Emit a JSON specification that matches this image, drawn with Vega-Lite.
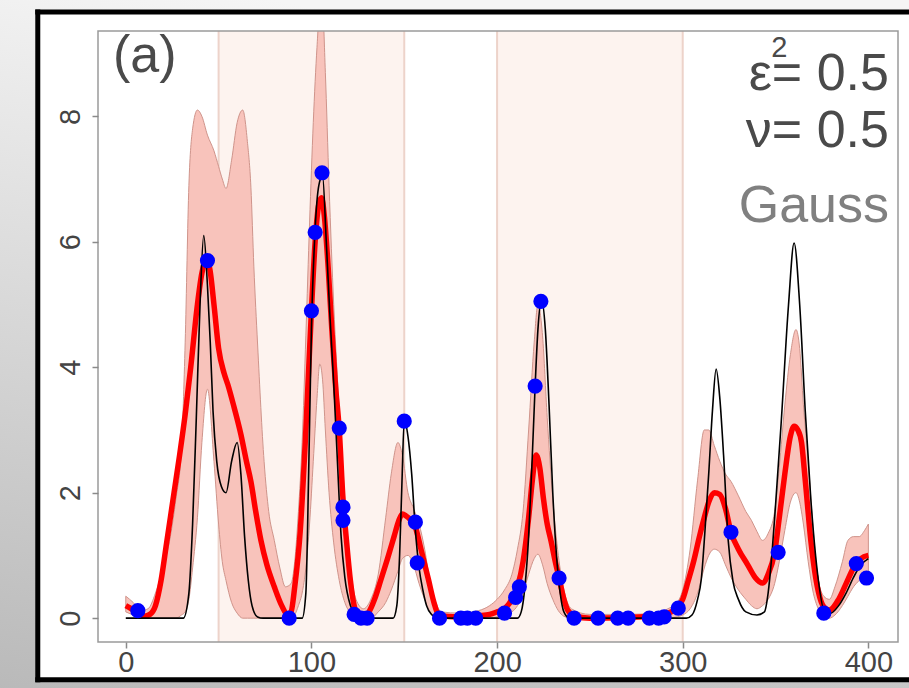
{
  "$schema": "https://vega.github.io/schema/vega-lite/v6.json",
  "width": 800,
  "height": 611,
  "autosize": {"type": "none"},
  "padding": {"left": 98, "top": 31, "right": 11, "bottom": 46},
  "background": "#eeeeee",
  "config": {
    "view": {"stroke": null},
    "axis": {"grid": false, "domain": false, "labelFont": "Liberation Sans", "labelFontSize": 29, "labelColor": "#444444", "tickColor": "#8a8a8a", "tickSize": 6, "tickWidth": 1.5}
  },
  "datasets": {
    "truth": [
      {"x": 0, "y": 0}, {"x": 31, "y": 0}, {"x": 34, "y": 0.4}, {"x": 36, "y": 1.5}, {"x": 38, "y": 3.2}, {"x": 40, "y": 5.0}, {"x": 42, "y": 6.1}, {"x": 44, "y": 5.3}, {"x": 45.5, "y": 4.4}, {"x": 47, "y": 3.3}, {"x": 49, "y": 2.5}, {"x": 51.5, "y": 2.1}, {"x": 54, "y": 2.0}, {"x": 57, "y": 2.5}, {"x": 60, "y": 2.8}, {"x": 62, "y": 2.3}, {"x": 64, "y": 1.3}, {"x": 66, "y": 0.6}, {"x": 68, "y": 0.2}, {"x": 71, "y": 0.02}, {"x": 74, "y": 0},
      {"x": 95, "y": 0}, {"x": 97, "y": 0.4}, {"x": 98.5, "y": 2.3}, {"x": 100, "y": 4.6}, {"x": 102, "y": 6.2}, {"x": 104, "y": 6.9}, {"x": 106, "y": 7.05}, {"x": 108, "y": 6.0}, {"x": 110, "y": 4.8}, {"x": 112, "y": 3.75}, {"x": 114, "y": 2.5}, {"x": 116, "y": 1.3}, {"x": 118, "y": 0.65}, {"x": 121, "y": 0.2}, {"x": 124, "y": 0.05}, {"x": 127, "y": 0},
      {"x": 144, "y": 0}, {"x": 146, "y": 0.2}, {"x": 147.5, "y": 1.0}, {"x": 148.8, "y": 2.2}, {"x": 150, "y": 3.15}, {"x": 152, "y": 2.9}, {"x": 154, "y": 2.3}, {"x": 156, "y": 1.4}, {"x": 158, "y": 0.8}, {"x": 160, "y": 0.45}, {"x": 162, "y": 0.2}, {"x": 165, "y": 0.05}, {"x": 168, "y": 0},
      {"x": 211, "y": 0}, {"x": 213, "y": 0.1}, {"x": 215, "y": 0.5}, {"x": 217, "y": 1.3}, {"x": 219, "y": 2.6}, {"x": 220.5, "y": 3.7}, {"x": 222, "y": 4.6}, {"x": 224, "y": 5.07}, {"x": 226, "y": 4.6}, {"x": 228, "y": 3.4}, {"x": 230, "y": 2.0}, {"x": 232, "y": 1.0}, {"x": 234, "y": 0.4}, {"x": 236, "y": 0.1}, {"x": 239, "y": 0},
      {"x": 302, "y": 0}, {"x": 305, "y": 0.05}, {"x": 308, "y": 0.3}, {"x": 310, "y": 0.62}, {"x": 312, "y": 1.4}, {"x": 314, "y": 2.3}, {"x": 316, "y": 3.3}, {"x": 318, "y": 3.97}, {"x": 320, "y": 3.5}, {"x": 322, "y": 2.6}, {"x": 324.5, "y": 1.24}, {"x": 327, "y": 0.6}, {"x": 330, "y": 0.3}, {"x": 334, "y": 0.1}, {"x": 340, "y": 0.05}, {"x": 344, "y": 0.1}, {"x": 346, "y": 0.4}, {"x": 348, "y": 1.0}, {"x": 350, "y": 1.8}, {"x": 353, "y": 3.1}, {"x": 357, "y": 5.0}, {"x": 360, "y": 5.98}, {"x": 363, "y": 5.0}, {"x": 366, "y": 3.3}, {"x": 369, "y": 1.9}, {"x": 373, "y": 0.62}, {"x": 377, "y": 0.06}, {"x": 380, "y": 0.08}, {"x": 384, "y": 0.2}, {"x": 388, "y": 0.4}, {"x": 392, "y": 0.65}, {"x": 396, "y": 0.85}, {"x": 400, "y": 0.95}
    ],
    "mean": [
      {"x": 0, "y": 0.2}, {"x": 3, "y": 0.15}, {"x": 6, "y": 0.1}, {"x": 10, "y": 0.03}, {"x": 13, "y": 0.06}, {"x": 16, "y": 0.2}, {"x": 19, "y": 0.6}, {"x": 22, "y": 1.2}, {"x": 26, "y": 2.0}, {"x": 29, "y": 2.6}, {"x": 32, "y": 3.25}, {"x": 35, "y": 4.0}, {"x": 38.6, "y": 5.0}, {"x": 41, "y": 5.5}, {"x": 43, "y": 5.69}, {"x": 45, "y": 5.6}, {"x": 47.5, "y": 5.0}, {"x": 50, "y": 4.3}, {"x": 53, "y": 3.9}, {"x": 55, "y": 3.72}, {"x": 58, "y": 3.4}, {"x": 62, "y": 2.93}, {"x": 65, "y": 2.5}, {"x": 67.4, "y": 2.18}, {"x": 70, "y": 1.7}, {"x": 72.8, "y": 1.24}, {"x": 76, "y": 0.85}, {"x": 80, "y": 0.5}, {"x": 84, "y": 0.2}, {"x": 87, "y": 0.06}, {"x": 89, "y": 0.1}, {"x": 91, "y": 0.5}, {"x": 94, "y": 1.4}, {"x": 97, "y": 3.0}, {"x": 100, "y": 4.9}, {"x": 102, "y": 6.0}, {"x": 104, "y": 6.6}, {"x": 105.5, "y": 6.7}, {"x": 107, "y": 6.4}, {"x": 109, "y": 5.6}, {"x": 111, "y": 4.6}, {"x": 113, "y": 3.7}, {"x": 115, "y": 3.0}, {"x": 117, "y": 1.9}, {"x": 119, "y": 1.2}, {"x": 121, "y": 0.6}, {"x": 123, "y": 0.2}, {"x": 125, "y": 0.05}, {"x": 128, "y": 0.02}, {"x": 131, "y": 0.1}, {"x": 134, "y": 0.3}, {"x": 137.5, "y": 0.62}, {"x": 141, "y": 0.95}, {"x": 144.5, "y": 1.3}, {"x": 147, "y": 1.55}, {"x": 149, "y": 1.66}, {"x": 151, "y": 1.63}, {"x": 153, "y": 1.58}, {"x": 156, "y": 1.45}, {"x": 159, "y": 1.1}, {"x": 163, "y": 0.62}, {"x": 166, "y": 0.25}, {"x": 168, "y": 0.08}, {"x": 172, "y": 0.03}, {"x": 180, "y": 0.02}, {"x": 190, "y": 0.04}, {"x": 196, "y": 0.06}, {"x": 200, "y": 0.1}, {"x": 204, "y": 0.15}, {"x": 208, "y": 0.3}, {"x": 211, "y": 0.5}, {"x": 214, "y": 0.9}, {"x": 217, "y": 1.6}, {"x": 219, "y": 2.2}, {"x": 221, "y": 2.6}, {"x": 223, "y": 2.4}, {"x": 225, "y": 1.9}, {"x": 227, "y": 1.5}, {"x": 229, "y": 1.24}, {"x": 231, "y": 0.95}, {"x": 233.4, "y": 0.64}, {"x": 236, "y": 0.3}, {"x": 238, "y": 0.13}, {"x": 242, "y": 0.03}, {"x": 250, "y": 0}, {"x": 285, "y": 0.03}, {"x": 292, "y": 0.08}, {"x": 297, "y": 0.16}, {"x": 300, "y": 0.3}, {"x": 303, "y": 0.6}, {"x": 306, "y": 0.92}, {"x": 309, "y": 1.3}, {"x": 311.6, "y": 1.6}, {"x": 314, "y": 1.85}, {"x": 317, "y": 2.0}, {"x": 320, "y": 1.97}, {"x": 323, "y": 1.75}, {"x": 326, "y": 1.37}, {"x": 330, "y": 1.1}, {"x": 335, "y": 0.85}, {"x": 339, "y": 0.65}, {"x": 343, "y": 0.56}, {"x": 346, "y": 0.7}, {"x": 349.5, "y": 1.05}, {"x": 352, "y": 1.6}, {"x": 355, "y": 2.3}, {"x": 358, "y": 2.9}, {"x": 360, "y": 3.06}, {"x": 362, "y": 3.0}, {"x": 364, "y": 2.8}, {"x": 366, "y": 2.2}, {"x": 369, "y": 1.24}, {"x": 373, "y": 0.43}, {"x": 376, "y": 0.18}, {"x": 379, "y": 0.13}, {"x": 384, "y": 0.3}, {"x": 388, "y": 0.55}, {"x": 392, "y": 0.8}, {"x": 396, "y": 0.95}, {"x": 400, "y": 1.0}
    ],
    "band": [
      {"x": 0, "lo": 0.1, "hi": 0.35}, {"x": 4, "lo": 0.05, "hi": 0.25}, {"x": 8, "lo": 0, "hi": 0.12}, {"x": 12, "lo": 0, "hi": 0.15}, {"x": 16, "lo": 0, "hi": 0.4}, {"x": 20, "lo": 0, "hi": 0.8}, {"x": 24, "lo": 0, "hi": 1.3}, {"x": 27, "lo": 0, "hi": 1.9}, {"x": 30, "lo": 0.05, "hi": 2.7}, {"x": 32, "lo": 0.1, "hi": 4.4}, {"x": 34, "lo": 0.3, "hi": 6.9}, {"x": 36, "lo": 0.8, "hi": 7.8}, {"x": 38.6, "lo": 1.6, "hi": 8.1}, {"x": 41, "lo": 2.8, "hi": 8.0}, {"x": 44, "lo": 3.65, "hi": 7.7}, {"x": 47.5, "lo": 2.5, "hi": 7.45}, {"x": 50, "lo": 1.5, "hi": 7.2}, {"x": 52, "lo": 0.9, "hi": 7.0}, {"x": 54, "lo": 0.6, "hi": 6.85}, {"x": 57, "lo": 0.25, "hi": 7.3}, {"x": 60, "lo": 0.08, "hi": 7.9}, {"x": 63, "lo": 0, "hi": 8.1}, {"x": 65.5, "lo": 0, "hi": 7.6}, {"x": 67.4, "lo": 0, "hi": 6.87}, {"x": 69, "lo": 0, "hi": 5.6}, {"x": 71, "lo": 0, "hi": 4.37}, {"x": 74.5, "lo": 0, "hi": 2.5}, {"x": 77, "lo": 0, "hi": 1.7}, {"x": 80, "lo": 0, "hi": 1.24}, {"x": 83, "lo": 0, "hi": 0.8}, {"x": 86, "lo": 0, "hi": 0.5}, {"x": 89, "lo": 0, "hi": 0.55}, {"x": 91, "lo": 0.05, "hi": 0.9}, {"x": 93, "lo": 0.2, "hi": 1.7}, {"x": 95, "lo": 0.4, "hi": 2.8}, {"x": 97, "lo": 0.8, "hi": 4.5}, {"x": 99, "lo": 1.5, "hi": 6.3}, {"x": 101, "lo": 2.5, "hi": 7.9}, {"x": 103, "lo": 3.5, "hi": 9.1}, {"x": 104.5, "lo": 4.05, "hi": 9.7}, {"x": 106, "lo": 3.8, "hi": 9.7}, {"x": 107.5, "lo": 3.0, "hi": 8.7}, {"x": 109.5, "lo": 2.0, "hi": 6.9}, {"x": 112, "lo": 1.2, "hi": 5.0}, {"x": 115, "lo": 0.6, "hi": 3.3}, {"x": 118, "lo": 0.25, "hi": 1.9}, {"x": 121, "lo": 0.08, "hi": 0.8}, {"x": 124, "lo": 0, "hi": 0.3}, {"x": 128, "lo": 0, "hi": 0.15}, {"x": 132, "lo": 0, "hi": 0.3}, {"x": 136, "lo": 0.1, "hi": 0.7}, {"x": 140, "lo": 0.25, "hi": 1.6}, {"x": 143, "lo": 0.45, "hi": 2.3}, {"x": 146.6, "lo": 0.75, "hi": 2.8}, {"x": 149, "lo": 0.95, "hi": 2.6}, {"x": 152, "lo": 1.0, "hi": 2.0}, {"x": 155, "lo": 0.85, "hi": 1.75}, {"x": 158, "lo": 0.55, "hi": 1.5}, {"x": 161, "lo": 0.3, "hi": 1.1}, {"x": 164, "lo": 0.1, "hi": 0.55}, {"x": 167, "lo": 0, "hi": 0.25}, {"x": 170, "lo": 0, "hi": 0.1}, {"x": 180, "lo": 0, "hi": 0.08}, {"x": 190, "lo": 0, "hi": 0.12}, {"x": 196, "lo": 0, "hi": 0.2}, {"x": 200, "lo": 0.02, "hi": 0.3}, {"x": 204, "lo": 0.05, "hi": 0.45}, {"x": 208, "lo": 0.1, "hi": 0.7}, {"x": 211, "lo": 0.2, "hi": 1.1}, {"x": 214, "lo": 0.4, "hi": 1.7}, {"x": 217, "lo": 0.7, "hi": 3.0}, {"x": 220, "lo": 0.95, "hi": 4.4}, {"x": 222, "lo": 1.02, "hi": 5.0}, {"x": 224.5, "lo": 0.85, "hi": 4.5}, {"x": 227, "lo": 0.55, "hi": 3.2}, {"x": 230, "lo": 0.3, "hi": 1.9}, {"x": 233, "lo": 0.12, "hi": 1.0}, {"x": 236, "lo": 0.03, "hi": 0.45}, {"x": 240, "lo": 0, "hi": 0.15}, {"x": 250, "lo": 0, "hi": 0.06}, {"x": 270, "lo": 0, "hi": 0.06}, {"x": 285, "lo": 0, "hi": 0.08}, {"x": 292, "lo": 0, "hi": 0.15}, {"x": 297, "lo": 0.02, "hi": 0.25}, {"x": 300, "lo": 0.05, "hi": 0.45}, {"x": 304, "lo": 0.15, "hi": 1.1}, {"x": 308, "lo": 0.4, "hi": 2.2}, {"x": 311.6, "lo": 0.8, "hi": 3.0}, {"x": 314, "lo": 1.0, "hi": 3.0}, {"x": 317, "lo": 1.1, "hi": 2.75}, {"x": 320, "lo": 1.05, "hi": 2.5}, {"x": 323, "lo": 0.85, "hi": 2.3}, {"x": 326, "lo": 0.65, "hi": 2.18}, {"x": 330, "lo": 0.45, "hi": 1.95}, {"x": 334, "lo": 0.3, "hi": 1.7}, {"x": 337, "lo": 0.2, "hi": 1.56}, {"x": 340, "lo": 0.15, "hi": 1.38}, {"x": 343, "lo": 0.2, "hi": 1.24}, {"x": 346, "lo": 0.3, "hi": 1.35}, {"x": 349.5, "lo": 0.55, "hi": 1.7}, {"x": 352, "lo": 0.9, "hi": 2.4}, {"x": 355, "lo": 1.4, "hi": 3.4}, {"x": 358, "lo": 1.85, "hi": 4.2}, {"x": 361, "lo": 2.0, "hi": 4.6}, {"x": 363, "lo": 1.85, "hi": 4.3}, {"x": 365, "lo": 1.5, "hi": 3.4}, {"x": 367.6, "lo": 0.9, "hi": 2.5}, {"x": 370, "lo": 0.45, "hi": 1.5}, {"x": 373, "lo": 0.15, "hi": 0.62}, {"x": 376, "lo": 0.02, "hi": 0.35}, {"x": 379, "lo": 0, "hi": 0.3}, {"x": 382, "lo": 0.05, "hi": 0.5}, {"x": 386, "lo": 0.2, "hi": 0.9}, {"x": 389, "lo": 0.35, "hi": 1.24}, {"x": 392, "lo": 0.5, "hi": 1.3}, {"x": 395, "lo": 0.6, "hi": 1.3}, {"x": 398, "lo": 0.7, "hi": 1.4}, {"x": 400, "lo": 0.75, "hi": 1.5}
    ],
    "obs": [
      {"x": 6.5, "y": 0.12}, {"x": 44, "y": 5.7}, {"x": 88, "y": 0}, {"x": 100, "y": 4.9}, {"x": 102, "y": 6.15}, {"x": 105.7, "y": 7.1}, {"x": 115, "y": 3.03}, {"x": 117, "y": 1.77}, {"x": 117, "y": 1.56}, {"x": 123, "y": 0.06}, {"x": 126.7, "y": 0}, {"x": 130, "y": 0}, {"x": 150, "y": 3.14}, {"x": 156, "y": 1.53}, {"x": 157, "y": 0.88}, {"x": 169, "y": 0}, {"x": 180.5, "y": 0}, {"x": 184, "y": 0}, {"x": 188.5, "y": 0}, {"x": 204, "y": 0.08}, {"x": 210, "y": 0.33}, {"x": 212, "y": 0.5}, {"x": 220.5, "y": 3.7}, {"x": 223.6, "y": 5.05}, {"x": 233.4, "y": 0.64}, {"x": 241.5, "y": 0}, {"x": 254.4, "y": 0}, {"x": 265, "y": 0}, {"x": 270.6, "y": 0}, {"x": 282, "y": 0}, {"x": 287, "y": 0}, {"x": 290, "y": 0.02}, {"x": 297.6, "y": 0.16}, {"x": 326, "y": 1.37}, {"x": 351.4, "y": 1.05}, {"x": 376, "y": 0.08}, {"x": 393.5, "y": 0.87}, {"x": 399, "y": 0.64}
    ]
  },
  "layer": [
    {
      "data": {"values": [{}]},
      "mark": {"type": "rect", "clip": false, "fill": {"gradient": "linear", "x1": 0, "y1": 1, "x2": 0.25, "y2": 0, "stops": [{"offset": 0, "color": "#b9b9b9"}, {"offset": 1, "color": "#f5f5f5"}]}},
      "encoding": {
        "x": {"datum": -70, "type": "quantitative", "title": null}, "x2": {"datum": 430},
        "y": {"datum": -1.2, "type": "quantitative", "title": null}, "y2": {"datum": 10}
      }
    },
    {
      "data": {"values": [{}]},
      "mark": {"type": "rect", "clip": false, "fill": "#ffffff"},
      "encoding": {
        "x": {"datum": -47.4, "type": "quantitative", "title": null}, "x2": {"datum": 430},
        "y": {"datum": -0.983, "type": "quantitative", "title": null}, "y2": {"datum": 9.662}
      }
    },
    {
      "data": {"values": [{"x": -47.4, "x2": 430, "y": 9.662, "y2": 9.662}, {"x": -47.4, "x2": 430, "y": -0.983, "y2": -0.983}, {"x": -47.4, "x2": -47.4, "y": -0.983, "y2": 9.662}]},
      "mark": {"type": "rule", "clip": false, "color": "#000000", "strokeWidth": 5, "strokeCap": "square"},
      "encoding": {
        "x": {"field": "x", "type": "quantitative", "title": null}, "x2": {"field": "x2"},
        "y": {"field": "y", "type": "quantitative", "title": null}, "y2": {"field": "y2"}
      }
    },
    {
      "data": {"values": [{"a": 50, "b": 150}, {"a": 200, "b": 300}]},
      "mark": {"type": "rect", "fill": "#fdf3ef"},
      "encoding": {
        "x": {"field": "a", "type": "quantitative", "title": null}, "x2": {"field": "b"},
        "y": {"datum": -0.38, "type": "quantitative", "title": null}, "y2": {"datum": 9.36}
      }
    },
    {
      "data": {"values": [{"x": 50}, {"x": 150}, {"x": 200}, {"x": 300}]},
      "mark": {"type": "rule", "color": "#edd3ca", "strokeWidth": 2},
      "encoding": {"x": {"field": "x", "type": "quantitative", "title": null}}
    },
    {
      "data": {"name": "band"},
      "mark": {"type": "area", "interpolate": "monotone", "fill": "#f8c3bb", "fillOpacity": 1, "stroke": "#cf948b", "strokeWidth": 1, "clip": true},
      "encoding": {
        "x": {"field": "x", "type": "quantitative", "title": null, "scale": {"domain": [-14.96, 415.96], "nice": false, "zero": false}, "axis": {"zindex": 2, "values": [0, 100, 200, 300, 400], "format": "d", "labelBaseline": "top", "labelPadding": 0, "labelFlush": false}},
        "y": {"field": "lo", "type": "quantitative", "title": null, "scale": {"domain": [-0.38, 9.36], "nice": false, "zero": false}, "axis": {"zindex": 2, "values": [0, 2, 4, 6, 8], "format": "d", "labelAngle": 270, "labelAlign": "center", "labelBaseline": "alphabetic", "labelPadding": 13, "labelFlush": false}},
        "y2": {"field": "hi"}
      }
    },
    {
      "data": {"name": "mean"},
      "mark": {"type": "line", "interpolate": "monotone", "color": "#ff0000", "strokeWidth": 5.5, "clip": true},
      "encoding": {
        "x": {"field": "x", "type": "quantitative", "title": null},
        "y": {"field": "y", "type": "quantitative", "title": null}
      }
    },
    {
      "data": {"name": "truth"},
      "mark": {"type": "line", "interpolate": "monotone", "color": "#000000", "strokeWidth": 1.6, "clip": true},
      "encoding": {
        "x": {"field": "x", "type": "quantitative", "title": null},
        "y": {"field": "y", "type": "quantitative", "title": null}
      }
    },
    {
      "data": {"name": "obs"},
      "mark": {"type": "circle", "color": "#0000ff", "opacity": 1, "size": 230},
      "encoding": {
        "x": {"field": "x", "type": "quantitative", "title": null},
        "y": {"field": "y", "type": "quantitative", "title": null}
      }
    },
    {
      "data": {"values": [{}]},
      "mark": {"type": "rect", "fillOpacity": 0, "stroke": "#9a9a9a", "strokeWidth": 1.5},
      "encoding": {
        "x": {"datum": -14.96, "type": "quantitative", "title": null}, "x2": {"datum": 415.96},
        "y": {"datum": -0.38, "type": "quantitative", "title": null}, "y2": {"datum": 9.36}
      }
    },
    {
      "data": {"values": [{"x": -6.9, "y": 8.70, "t": "(a)"}]},
      "mark": {"type": "text", "align": "left", "baseline": "alphabetic", "font": "Liberation Sans", "fontSize": 52, "color": "#4a4a4a"},
      "encoding": {
        "x": {"field": "x", "type": "quantitative", "title": null},
        "y": {"field": "y", "type": "quantitative", "title": null},
        "text": {"field": "t"}
      }
    },
    {
      "data": {"values": [{"x": 411.1, "y": 8.42, "t": "ε= 0.5"}, {"x": 411.1, "y": 7.51, "t": "ν= 0.5"}]},
      "mark": {"type": "text", "align": "right", "baseline": "alphabetic", "font": "Liberation Sans", "fontSize": 52, "color": "#4a4a4a"},
      "encoding": {
        "x": {"field": "x", "type": "quantitative", "title": null},
        "y": {"field": "y", "type": "quantitative", "title": null},
        "text": {"field": "t"}
      }
    },
    {
      "data": {"values": [{"x": 352, "y": 8.95, "t": "2"}]},
      "mark": {"type": "text", "align": "center", "baseline": "alphabetic", "font": "Liberation Sans", "fontSize": 29, "color": "#4a4a4a"},
      "encoding": {
        "x": {"field": "x", "type": "quantitative", "title": null},
        "y": {"field": "y", "type": "quantitative", "title": null},
        "text": {"field": "t"}
      }
    },
    {
      "data": {"values": [{"x": 411.1, "y": 6.32, "t": "Gauss"}]},
      "mark": {"type": "text", "align": "right", "baseline": "alphabetic", "font": "Liberation Sans", "fontSize": 52, "color": "#808080"},
      "encoding": {
        "x": {"field": "x", "type": "quantitative", "title": null},
        "y": {"field": "y", "type": "quantitative", "title": null},
        "text": {"field": "t"}
      }
    }
  ]
}
